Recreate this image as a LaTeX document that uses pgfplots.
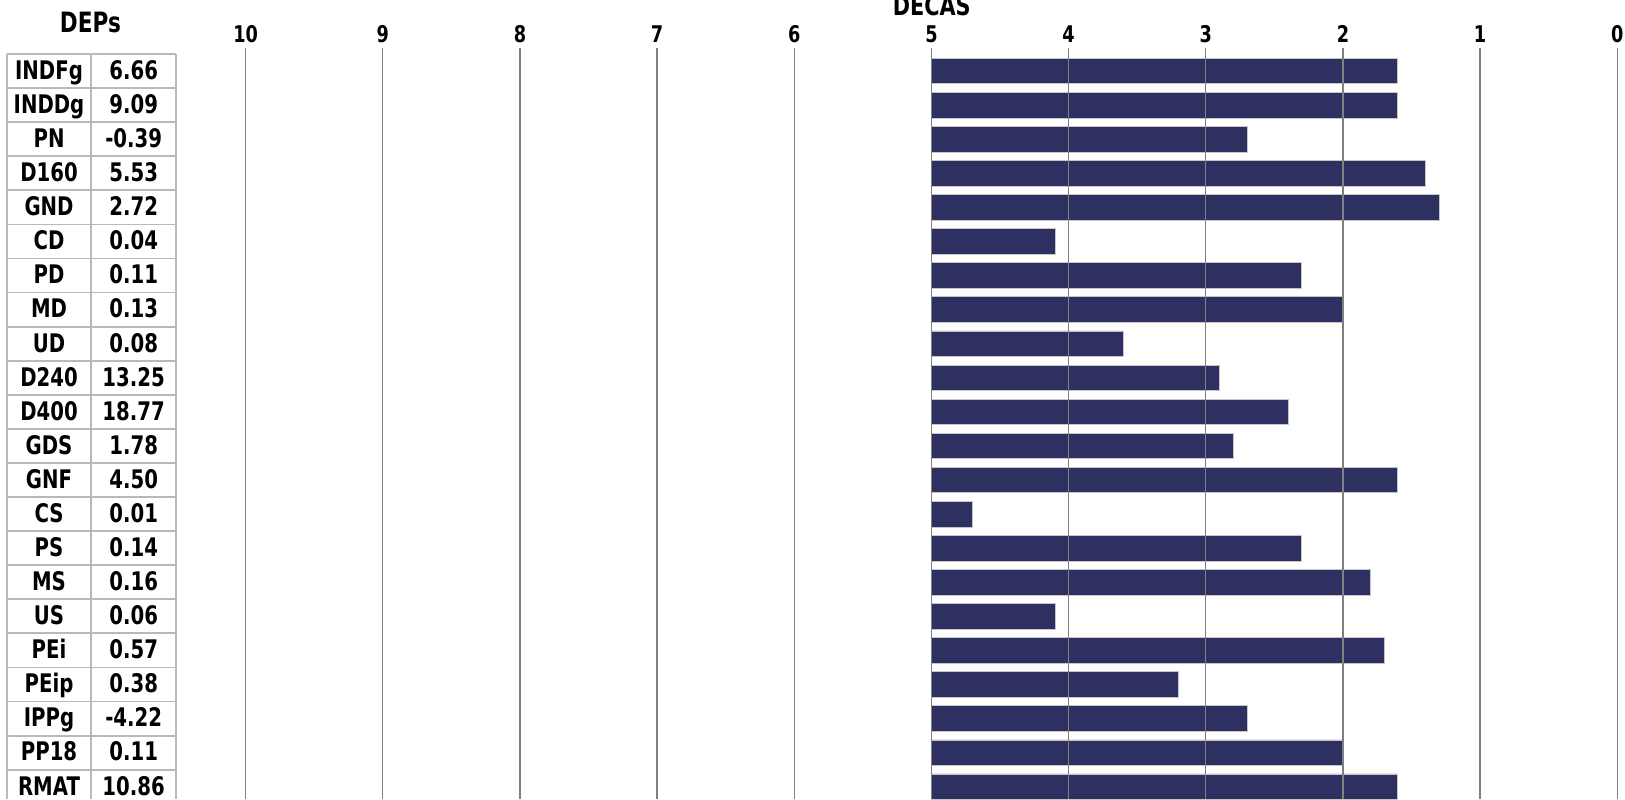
\documentclass[border=0pt]{standalone}
\usepackage{fontspec}
\setmainfont{DejaVu Sans}[FakeStretch=0.77]
\usepackage{pgfplots}
\usepackage{pgfplotstable}
\pgfplotsset{compat=1.18}
\definecolor{barnavy}{RGB}{45,48,96}

\pgfplotstableread{
i name value bar
1 INDFg 6.66 1.60
2 INDDg 9.09 1.60
3 PN -0.39 2.70
4 D160 5.53 1.40
5 GND 2.72 1.30
6 CD 0.04 4.10
7 PD 0.11 2.30
8 MD 0.13 2.00
9 UD 0.08 3.60
10 D240 13.25 2.90
11 D400 18.77 2.40
12 GDS 1.78 2.80
13 GNF 4.50 1.60
14 CS 0.01 4.70
15 PS 0.14 2.30
16 MS 0.16 1.80
17 US 0.06 4.10
18 PEi 0.57 1.70
19 PEip 0.38 3.20
20 IPPg -4.22 2.70
21 PP18 0.11 2.00
22 RMAT 10.86 1.60
}\data

\begin{document}
\begin{tikzpicture}
\useasboundingbox (0,0) rectangle (812.5pt,-399.5pt);

% main bar axis (scale 10 .. 0, bars start at 5)
\begin{axis}[
  at={(122.8pt,-24pt)}, anchor=north west,
  scale only axis, width=685.85pt, height=375.5pt,
  x dir=reverse, xmin=-5, xmax=5,
  y dir=reverse, ymin=0.3236, ymax=22.36,
  axis x line*=top, axis y line=none,
  x axis line style={draw=none},
  xtick={-5,-4,-3,-2,-1,0,1,2,3,4,5},
  xticklabels={0,1,2,3,4,5,6,7,8,9,10},
  ytick=\empty,
  major tick length=0pt,
  xmajorgrids,
  grid style={gray, line width=0.65pt},
  axis on top,
  /pgf/number format/assume math mode=true,
  xticklabel style={font=\bfseries\fontsize{11.5}{13}\selectfont, anchor=south, inner sep=0pt, yshift=2.35pt},
]
\addplot[xbar, bar width=0.75, fill=barnavy, draw=gray!45, line width=0.4pt]
  table[x expr=\thisrow{bar}-5, y=i]{\data};
\end{axis}

% left table
\begin{axis}[
  at={(3.35pt,-27pt)}, anchor=north west,
  scale only axis, width=84.65pt, height=372.5pt,
  xmin=0, xmax=2, ymin=0.5, ymax=22.36, y dir=reverse,
  axis line style={draw=none},
  xtick={0,1,2}, ytick={0.5,1.5,...,22.5},
  xticklabels={}, yticklabels={},
  major tick length=0pt,
  xmajorgrids, ymajorgrids,
  grid style={gray!55, line width=0.9pt},
  clip=false,
]
\addplot[draw=none, mark=none, nodes near coords, point meta=explicit symbolic,
  nodes near coords align=center,
  nodes near coords style={font=\bfseries\fontsize{12.8}{14}\selectfont, text height=9pt, text depth=3pt, anchor=center, yshift=-1.15pt}]
  table[x expr=0.5, y=i, meta=name]{\data};
\addplot[draw=none, mark=none, nodes near coords, point meta=explicit symbolic,
  nodes near coords align=center,
  nodes near coords style={font=\bfseries\fontsize{12.8}{14}\selectfont, text height=9pt, text depth=3pt, anchor=center, yshift=-1.15pt}]
  table[x expr=1.5, y=i, meta=value]{\data};
\end{axis}

\node[anchor=base, font=\bfseries\fontsize{14}{16}\selectfont] at (45.2pt,-16.15pt) {DEPs};
\node[anchor=base, font=\bfseries\fontsize{13.5}{15}\selectfont] at (465.85pt,-7.5pt) {DECAS};
\end{tikzpicture}
\end{document}
